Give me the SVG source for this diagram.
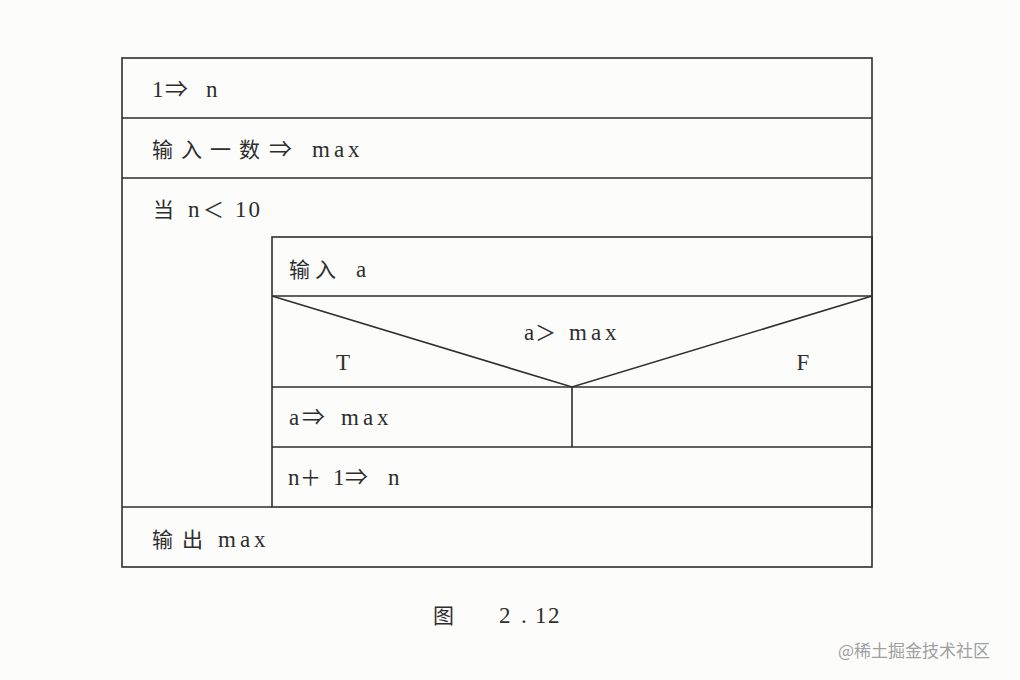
<svg xmlns="http://www.w3.org/2000/svg" width="1020" height="680" viewBox="0 0 1020 680">
<style>
.ln{stroke:#2e2e2e;stroke-width:1.6;fill:none}
.t{font-family:"Liberation Serif","Noto Sans CJK SC",serif;font-size:23px;fill:#2e2e2e}
.cj{font-family:"Noto Sans CJK SC",sans-serif;font-size:21px}
.w{letter-spacing:4px}
.wm{font-family:"Noto Sans CJK SC","Liberation Sans",sans-serif;font-size:17px;fill:#a0a0a0}
</style>
<rect width="1020" height="680" fill="#fcfcfb"/>
<g id="outer"><rect class="ln" x="122" y="58" width="750" height="509"/></g>
<g id="n1"><line class="ln" x1="122" y1="118" x2="872" y2="118"/>
<text class="t" y="97"><tspan x="152">1</tspan><tspan x="165">⇒</tspan><tspan x="206">n</tspan></text></g>
<g id="n2"><line class="ln" x1="122" y1="178" x2="872" y2="178"/>
<text class="t" y="157"><tspan class="cj" x="152" style="letter-spacing:8px">输入一数</tspan><tspan x="269">⇒</tspan><tspan class="w" x="312">max</tspan></text></g>
<g id="loop"><text class="t" y="217"><tspan class="cj" x="153">当</tspan><tspan x="188">n</tspan><tspan class="cj" x="203" font-size="27">＜</tspan><tspan x="235" style="letter-spacing:2px">10</tspan></text>
<rect class="ln" x="272" y="237" width="600" height="270"/>
<line class="ln" x1="122" y1="507" x2="272" y2="507"/></g>
<g id="n3"><text class="t" y="277"><tspan class="cj" x="289" style="letter-spacing:5px">输入</tspan><tspan x="356">a</tspan></text><line class="ln" x1="272" y1="296" x2="872" y2="296"/></g>
<g id="dec"><line class="ln" x1="272" y1="387" x2="872" y2="387"/>
<text class="t" y="340"><tspan x="524">a</tspan><tspan class="cj" x="535" font-size="29">＞</tspan><tspan class="w" x="569">max</tspan></text>
<text class="t" x="343" y="370" text-anchor="middle">T</text>
<text class="t" x="803" y="370" text-anchor="middle">F</text></g>
<g id="n4"><text class="t" y="425"><tspan x="289">a</tspan><tspan x="302">⇒</tspan><tspan class="w" x="341">max</tspan></text>
<line class="ln" x1="572" y1="387" x2="572" y2="447"/><line class="ln" x1="272" y1="447" x2="872" y2="447"/></g>
<g id="n5"><text class="t" y="485"><tspan x="288">n</tspan><tspan class="cj" x="300" font-size="26">＋</tspan><tspan x="333">1</tspan><tspan x="345">⇒</tspan><tspan x="388">n</tspan></text></g>
<g id="n6"><text class="t" y="547"><tspan class="cj" x="152" style="letter-spacing:9px">输出</tspan><tspan class="w" x="218">max</tspan></text></g>
<g id="connectors"><polyline class="ln" points="272,296 572,387 872,296"/></g>
<text class="t" y="623" font-size="25"><tspan class="cj" x="433" font-size="24">图</tspan><tspan x="499">2</tspan><tspan x="521">.</tspan><tspan x="535">1</tspan><tspan x="548">2</tspan></text>
<text class="wm" x="838" y="657">@稀土掘金技术社区</text>
</svg>
